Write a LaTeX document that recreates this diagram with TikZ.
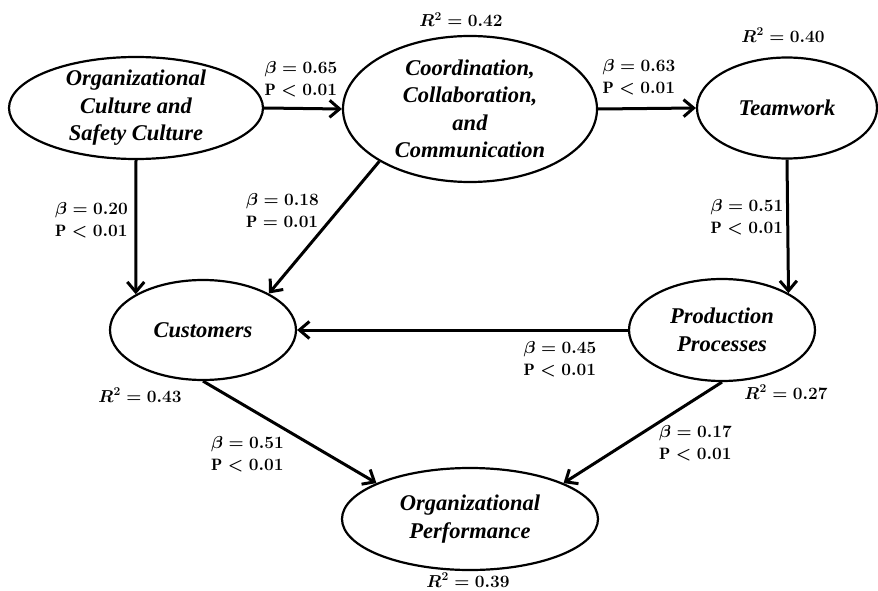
\documentclass[tikz,border=0pt]{standalone}
\usepackage{fontspec}
\newfontfamily\ellfont{Liberation Serif}
\usetikzlibrary{shapes.geometric,arrows.meta}
\newcommand\coefpair[3]{$\beta = #1$\\$\mathrm{P} #2 #3$}
\begin{document}
\begin{tikzpicture}[x=1pt,y=-1pt,
  construct/.style={ellipse,draw,line width=2.2pt,inner sep=0pt},
  ctext/.style={font=\ellfont\bfseries\itshape\fontsize{22.5}{27.5}\selectfont,align=center},
  link/.style={line width=3pt,-{Straight Barb[length=10pt,width=17pt]}},
  coef/.style={font=\boldmath\fontsize{16.5}{22}\selectfont,align=left,inner sep=0pt},
  rsq/.style={font=\boldmath\fontsize{16.5}{22}\selectfont,inner sep=0pt},
]
\fill[white] (0,0) rectangle (878,591);
\useasboundingbox (0,0) rectangle (878,591);

% constructs
\node[construct,minimum width=254,minimum height=102,
  label={[ctext]center:{Organizational\\Culture and\\Safety Culture}}] (org) at (136,108) {};
\node[construct,minimum width=254,minimum height=146,
  label={[ctext]center:{Coordination,\\Collaboration,\\and\\Communication}}] (coord) at (470,109) {};
\node[construct,minimum width=180,minimum height=101,
  label={[ctext]center:Teamwork}] (team) at (787,108) {};
\node[construct,minimum width=186,minimum height=100,
  label={[ctext]center:Customers}] (cust) at (203,330) {};
\node[construct,minimum width=186,minimum height=102,
  label={[ctext]center:{Production\\Processes}}] (prod) at (722,330) {};
\node[construct,minimum width=256,minimum height=102,
  label={[ctext]center:{Organizational\\Performance}}] (perf) at (470,519) {};

% paths
\draw[link] (org.east) -- (coord.west);
\draw[link] (org.south) -- (cust.152.6);
\draw[link] (coord.210) -- (cust.29);
\draw[link] (coord.east) -- (team.west);
\draw[link] (team.south) -- (prod.29.3);
\draw[link] (prod.west) -- (cust.east);
\draw[link] (cust.south) -- (perf.159);
\draw[link] (prod.south) -- (perf.21);

% path coefficients
\node[coef] (c65) at (301,79) {\coefpair{0.65}{<}{0.01}};
\node[coef] (c63) at (639,77.5) {\coefpair{0.63}{<}{0.01}};
\node[coef] (c20) at (91.5,220) {\coefpair{0.20}{<}{0.01}};
\node[coef] (c18) at (282.5,210.5) {\coefpair{0.18}{=}{0.01}};
\node[coef] (c51a) at (747,217) {\coefpair{0.51}{<}{0.01}};
\node[coef] (c45) at (560,359) {\coefpair{0.45}{<}{0.01}};
\node[coef] (c51b) at (247.5,454) {\coefpair{0.51}{<}{0.01}};
\node[coef] (c17) at (695.5,443) {\coefpair{0.17}{<}{0.01}};

% explained variance
\node[rsq] (r42) at (461,20) {$R^2 = 0.42$};
\node[rsq] (r40) at (783,35) {$R^2 = 0.40$};
\node[rsq] (r27) at (786,392) {$R^2 = 0.27$};
\node[rsq] (r43) at (140,395) {$R^2 = 0.43$};
\node[rsq] (r39) at (468,580) {$R^2 = 0.39$};
\end{tikzpicture}
\end{document}
